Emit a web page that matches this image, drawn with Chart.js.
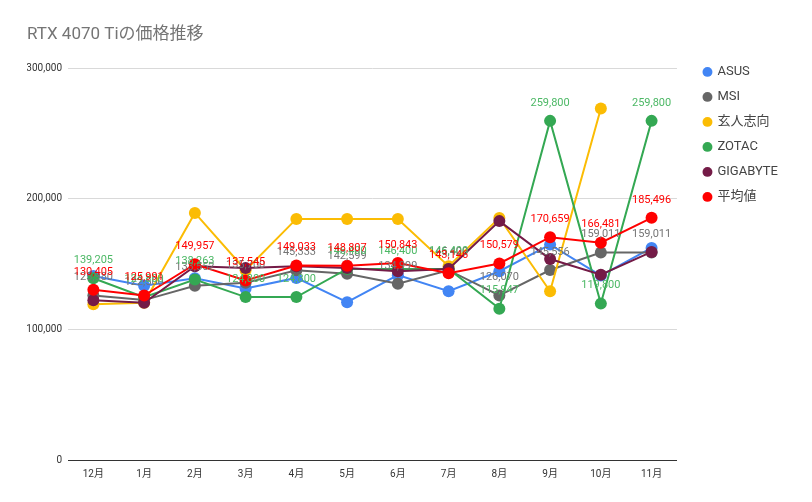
<!DOCTYPE html>
<html>
<head>
<meta charset="utf-8">
<script src="https://cdn.jsdelivr.net/npm/chart.js@4/dist/chart.umd.min.js"></script>
<style>
  body { margin: 0; background: #fff; }
  #wrap { width: 812px; height: 502px; }
</style>
</head>
<body>
<div id="wrap"><canvas id="chart"></canvas></div>
<script>
const months = ['12月', '1月', '2月', '3月', '4月', '5月', '6月', '7月', '8月', '9月', '10月', '11月']
const asus = [141000, 133500, 139300, 131400, 139500, 120900, 141600, 129300, 144600, 165000, 141300, 162500]
const msi = [125980, 122500, 133552, 135700, 145333, 142599, 134999, 145400, 126070, 145556, 159011, 159011]
const kuroto = [119400, 120500, 189300, 145400, 184700, 184700, 184700, 148500, 185400, 129300, 269200, null]
const zotac = [139205, 124800, 138263, 124800, 124800, 146400, 146400, 146400, 115947, 259800, 119800, 259800]
const gigabyte = [122400, 120400, 148500, 147000, 148500, 147000, 144600, 146400, 183000, 154000, 142000, 159400]
const average = [130405, 125991, 149957, 137545, 149033, 148807, 150843, 143146, 150579, 170659, 166481, 185496]
const yTicks = [0, 100000, 200000, 300000]

const font = "Roboto, 'Noto Sans CJK JP', sans-serif"

function series(label, data, color, order, labelColor) {
    return {
        label: label,
        data: data,
        borderColor: color,
        backgroundColor: color,
        pointBackgroundColor: color,
        pointBorderColor: color,
        pointBorderWidth: 0,
        borderWidth: 2,
        pointRadius: 6,
        pointHoverRadius: 6,
        tension: 0,
        order: order,
        valueLabelColor: labelColor // null => no value labels
    }
}

// draws the numbers above the points (no datalabels plugin offline)
const valueLabels = {
    id: 'valueLabels',
    afterDatasetsDraw(chart) {
        const ctx = chart.ctx
        ctx.save()
        ctx.font = `11px ${font}`
        ctx.textAlign = 'center'
        ctx.textBaseline = 'middle'
        // bottom layers first
        const idx = chart.data.datasets.map((d, i) => i).sort((a, b) => chart.data.datasets[b].order - chart.data.datasets[a].order)
        idx.forEach(i => {
            const ds = chart.data.datasets[i]
            if (!ds.valueLabelColor) return
            const meta = chart.getDatasetMeta(i)
            ctx.fillStyle = ds.valueLabelColor
            meta.data.forEach((pt, j) => {
                const v = ds.data[j]
                if (v == null) return
                ctx.fillText(v.toLocaleString('en-US'), pt.x, pt.y - 18)
            })
        })
        ctx.restore()
    }
}

const data = {
    labels: months,
    datasets: [
        series('ASUS', asus, '#4285f4', 5, null),
        series('MSI', msi, '#666666', 4, '#757575'),
        series('玄人志向', kuroto, '#fbbc04', 3, null),
        series('ZOTAC', zotac, '#34a853', 2, '#4cb865'),
        series('GIGABYTE', gigabyte, '#741b47', 1, null),
        series('平均値', average, '#ff0000', 0, '#ff0000')
    ]
}

const config = {
    type: 'line',
    data: data,
    options: {
        responsive: true,
        maintainAspectRatio: false,
        animation: false,
        layout: { padding: { left: 27, right: 24, bottom: 22 } },
        plugins: {
            title: {
                display: true,
                text: 'RTX 4070 Tiの価格推移',
                align: 'start',
                color: '#757575',
                font: { family: font, size: 17, weight: 'normal' },
                padding: { top: 25, bottom: 23 }
            },
            legend: {
                position: 'right',
                align: 'start',
                title: { display: true, text: '', padding: { top: 39, bottom: 0 } },
                labels: {
                    usePointStyle: true,
                    pointStyle: 'circle',
                    boxWidth: 7,
                    boxHeight: 7,
                    padding: 12,
                    color: '#444',
                    font: { family: font, size: 13 },
                    sort: (a, b) => a.datasetIndex - b.datasetIndex
                }
            },
            tooltip: { enabled: false }
        },
        scales: {
            x: {
                offset: true,
                grid: { display: false },
                border: { color: '#333' },
                ticks: { color: '#333', font: { family: font, size: 10 }, padding: 0 }
            },
            y: {
                min: 0,
                max: 300000,
                afterBuildTicks: axis => { axis.ticks = yTicks.map(v => ({ value: v })) },
                afterFit: axis => { axis.width = 41 },
                grid: {
                    color: c => c.tick && c.tick.value === 0 ? '#333' : '#d9d9d9',
                    drawTicks: false
                },
                border: { display: false },
                ticks: {
                    color: '#333',
                    font: { family: font, size: 10 },
                    padding: 6,
                    callback: v => v.toLocaleString('en-US')
                }
            },
            // empty right axis, only keeps a gap before the legend
            gap: {
                type: 'linear',
                position: 'right',
                display: true,
                afterFit: axis => { axis.width = 15 },
                grid: { display: false },
                border: { display: false },
                ticks: { display: false }
            }
        }
    },
    plugins: [valueLabels]
}

new Chart(document.getElementById('chart'), config)
</script>
</body>
</html>
